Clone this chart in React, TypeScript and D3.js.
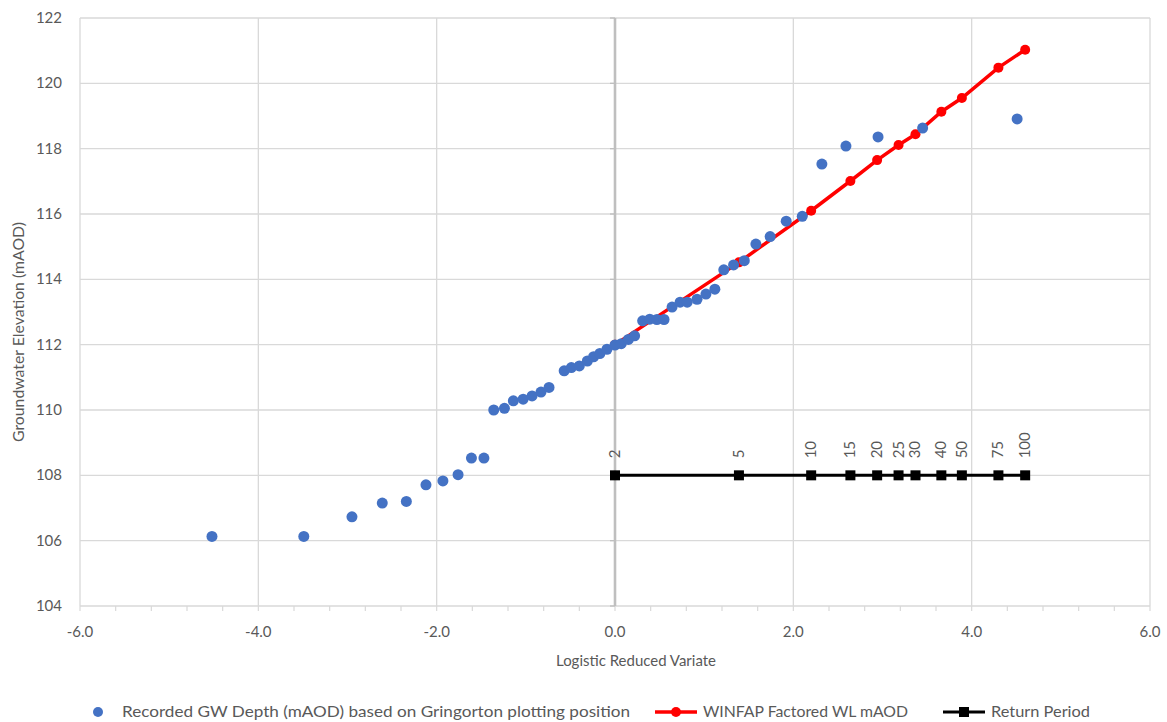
import React from "react";
import * as d3 from "d3";

const gringortonX = [-4.52, -3.49, -2.95, -2.61, -2.34, -2.12, -1.93, -1.76, -1.61, -1.47, -1.36, -1.24, -1.14, -1.03, -0.93, -0.83, -0.74, -0.57, -0.49, -0.40, -0.31, -0.24, -0.17, -0.09, 0.0, 0.07, 0.15, 0.22, 0.31, 0.39, 0.47, 0.55, 0.64, 0.73, 0.81, 0.92, 1.02, 1.12, 1.22, 1.33, 1.45, 1.58, 1.74, 1.92, 2.10, 2.32, 2.59, 2.95, 3.45, 4.51];
const gringortonY = [106.13, 106.13, 106.73, 107.15, 107.20, 107.71, 107.83, 108.02, 108.53, 108.53, 110.0, 110.05, 110.28, 110.33, 110.43, 110.55, 110.69, 111.20, 111.30, 111.35, 111.50, 111.63, 111.73, 111.86, 111.99, 112.03, 112.16, 112.27, 112.73, 112.78, 112.77, 112.77, 113.15, 113.30, 113.30, 113.39, 113.55, 113.70, 114.29, 114.44, 114.57, 115.08, 115.31, 115.78, 115.93, 117.53, 118.08, 118.36, 118.63, 118.91];

const returnPeriods = ["2", "5", "10", "15", "20", "25", "30", "40", "50", "75", "100"];
const returnPeriodX = [0.0, 1.39, 2.20, 2.64, 2.94, 3.18, 3.37, 3.66, 3.89, 4.30, 4.60];
const winfapY = [112.0, 114.52, 116.1, 117.01, 117.65, 118.11, 118.44, 119.13, 119.55, 120.48, 121.03];
const returnPeriodY = [108, 108, 108, 108, 108, 108, 108, 108, 108, 108, 108];

const xTicks = [-6, -4, -2, 0, 2, 4, 6];
const yTicks = [104, 106, 108, 110, 112, 114, 116, 118, 120, 122];

const W = 1167;
const H = 722;
const M = { left: 80, right: 1150, top: 18, bottom: 606 };
const FONT = "Lato, 'Open Sans', sans-serif";
const TXT = "#595959";
const GRID = "#d9d9d9";

export default function App() {
  const x = d3.scaleLinear().domain([-6, 6]).range([M.left, M.right]);
  const y = d3.scaleLinear().domain([104, 122]).range([M.bottom, M.top]);
  const minorTicks = d3.range(-6, 6.0001, 0.4);
  const lineGen = d3
    .line<number>()
    .x((_, i) => x(returnPeriodX[i]))
    .y((d) => y(d));

  return (
    <svg
      width={W}
      height={H}
      style={{ position: "absolute", left: 0, top: 0, background: "#fff" }}
      fontFamily={FONT}
    >
      {/* grid */}
      {yTicks.map((t) => (
        <line key={"gy" + t} x1={M.left} x2={M.right} y1={y(t)} y2={y(t)} stroke={GRID} strokeWidth={1.3} />
      ))}
      {xTicks.map((t) => (
        <line key={"gx" + t} x1={x(t)} x2={x(t)} y1={M.top} y2={M.bottom} stroke={GRID} strokeWidth={1.3} />
      ))}
      {/* minor ticks on x axis */}
      {minorTicks.map((t, i) => (
        <line key={"mt" + i} x1={x(t)} x2={x(t)} y1={M.bottom} y2={M.bottom + 5} stroke={GRID} strokeWidth={1.2} />
      ))}
      {/* vertical axis at x = 0 */}
      <line x1={x(0)} x2={x(0)} y1={M.top} y2={M.bottom} stroke="#bfbfbf" strokeWidth={2.6} />
      {yTicks.map((t) => (
        <line key={"vt" + t} x1={x(0) - 5} x2={x(0)} y1={y(t)} y2={y(t)} stroke="#bfbfbf" strokeWidth={1.3} />
      ))}
      {/* tick labels */}
      {xTicks.map((t) => (
        <text key={"xl" + t} x={x(t)} y={M.bottom + 31} textAnchor="middle" fontSize={15} fill={TXT}>
          {t.toFixed(1)}
        </text>
      ))}
      {yTicks.map((t) => (
        <text key={"yl" + t} x={62} y={y(t) + 5} textAnchor="end" fontSize={15} fill={TXT}>
          {t}
        </text>
      ))}
      {/* axis titles */}
      <text x={636} y={666} textAnchor="middle" fontSize={16} fill={TXT} textLength={160} lengthAdjust="spacingAndGlyphs">
        Logistic Reduced Variate
      </text>
      <text
        transform={`translate(24,332) rotate(-90)`}
        textAnchor="middle"
        fontSize={16}
        fill={TXT}
        textLength={220}
        lengthAdjust="spacingAndGlyphs"
      >
        Groundwater Elevation (mAOD)
      </text>

      {/* return period series */}
      <path d={lineGen(returnPeriodY) || ""} fill="none" stroke="#000" strokeWidth={3} />
      {returnPeriodY.map((v, i) => (
        <rect key={"rp" + i} x={x(returnPeriodX[i]) - 5} y={y(v) - 5} width={10} height={10} fill="#000" />
      ))}
      {returnPeriods.map((lab, i) => (
        <text
          key={"rpl" + i}
          transform={`translate(${x(returnPeriodX[i]) + 5},${y(returnPeriodY[i]) - 17}) rotate(-90)`}
          fontSize={15}
          fill={TXT}
        >
          {lab}
        </text>
      ))}

      {/* WINFAP series */}
      <path d={lineGen(winfapY) || ""} fill="none" stroke="#ff0000" strokeWidth={3.5} />
      {winfapY.map((v, i) => (
        <circle key={"wf" + i} cx={x(returnPeriodX[i])} cy={y(v)} r={5} fill="#ff0000" />
      ))}

      {/* recorded series */}
      {gringortonY.map((v, i) => (
        <circle key={"g" + i} cx={x(gringortonX[i])} cy={y(v)} r={5.5} fill="#4472c4" />
      ))}

      {/* legend */}
      <g fontSize={15} fill={TXT}>
        <circle cx={98} cy={712} r={5} fill="#4472c4" />
        <text x={122} y={717} textLength={508} lengthAdjust="spacingAndGlyphs">
          Recorded GW Depth (mAOD) based on Gringorton plotting position
        </text>
        <line x1={655} x2={697} y1={712} y2={712} stroke="#ff0000" strokeWidth={3.5} />
        <circle cx={676} cy={712} r={5} fill="#ff0000" />
        <text x={703} y={717} textLength={205} lengthAdjust="spacingAndGlyphs">
          WINFAP Factored WL mAOD
        </text>
        <line x1={943} x2={985} y1={712} y2={712} stroke="#000" strokeWidth={3} />
        <rect x={959} y={707} width={10} height={10} fill="#000" />
        <text x={991} y={717} textLength={99} lengthAdjust="spacingAndGlyphs">
          Return Period
        </text>
      </g>
    </svg>
  );
}
